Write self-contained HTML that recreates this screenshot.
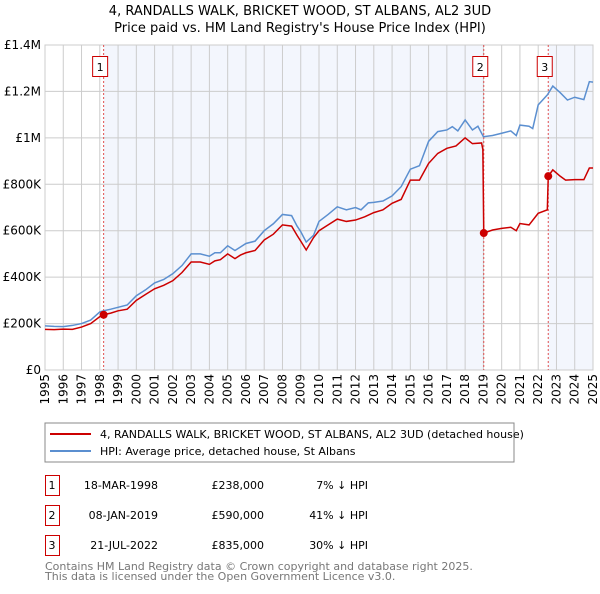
<!DOCTYPE html>
<html><head><meta charset="utf-8"><style>
body{margin:0;background:#fff;font-family:"DejaVu Sans","Liberation Sans",sans-serif;}
svg text{font-family:"DejaVu Sans","Liberation Sans",sans-serif;}
</style></head><body>
<svg id="c" width="600" height="590" viewBox="0 0 600 590">
<text x="300" y="15" font-size="13" text-anchor="middle" fill="#000">4, RANDALLS WALK, BRICKET WOOD, ST ALBANS, AL2 3UD</text>
<text x="300" y="32" font-size="13" text-anchor="middle" fill="#000">Price paid vs. HM Land Registry's House Price Index (HPI)</text>
<g id="plot"></g>
<rect x="45" y="423" width="469" height="39" fill="#fff" stroke="#888"/>
<line x1="50" y1="434" x2="91" y2="434" stroke="#cc0000" stroke-width="2"/>
<text x="100" y="438" font-size="11">4, RANDALLS WALK, BRICKET WOOD, ST ALBANS, AL2 3UD (detached house)</text>
<line x1="50" y1="451" x2="91" y2="451" stroke="#5b8fd0" stroke-width="2"/>
<text x="100" y="455" font-size="11">HPI: Average price, detached house, St Albans</text>
<g font-size="11" fill="#000">
<rect x="45.5" y="475.5" width="14" height="20" fill="#fff" stroke="#cc0000"/><text x="52" y="489" text-anchor="middle">1</text>
<text x="158" y="489" text-anchor="end">18-MAR-1998</text><text x="264" y="489" text-anchor="end">£238,000</text><text x="368" y="489" text-anchor="end">7% ↓ HPI</text>
<rect x="45.5" y="505.5" width="14" height="20" fill="#fff" stroke="#cc0000"/><text x="52" y="519" text-anchor="middle">2</text>
<text x="158" y="519" text-anchor="end">08-JAN-2019</text><text x="264" y="519" text-anchor="end">£590,000</text><text x="368" y="519" text-anchor="end">41% ↓ HPI</text>
<rect x="45.5" y="535.5" width="14" height="20" fill="#fff" stroke="#cc0000"/><text x="52" y="549" text-anchor="middle">3</text>
<text x="158" y="549" text-anchor="end">21-JUL-2022</text><text x="264" y="549" text-anchor="end">£835,000</text><text x="368" y="549" text-anchor="end">30% ↓ HPI</text>
</g>
<text x="45" y="570" font-size="11" fill="#777">Contains HM Land Registry data © Crown copyright and database right 2025.</text>
<text x="45" y="580" font-size="11" fill="#777">This data is licensed under the Open Government Licence v3.0.</text>
</svg>
<script>
const yTicks=[0,200,400,600,800,1000,1200,1400];
const yTickLabels=["£0","£200K","£400K","£600K","£800K","£1M","£1.2M","£1.4M"];
const xYears=[1995,1996,1997,1998,1999,2000,2001,2002,2003,2004,2005,2006,2007,2008,2009,2010,2011,2012,2013,2014,2015,2016,2017,2018,2019,2020,2021,2022,2023,2024,2025];
const hpiYears=[1995,1995.5,1996,1996.5,1997,1997.5,1998,1998.2,1998.6,1999,1999.5,2000,2000.5,2001,2001.5,2002,2002.5,2003,2003.5,2004,2004.3,2004.6,2005,2005.4,2005.7,2006,2006.5,2007,2007.5,2008,2008.5,2008.8,2009,2009.3,2009.7,2010,2010.5,2011,2011.5,2012,2012.3,2012.7,2013,2013.5,2014,2014.5,2015,2015.5,2016,2016.5,2017,2017.3,2017.6,2018,2018.4,2018.7,2019,2019.5,2020,2020.5,2020.8,2021,2021.5,2021.7,2022,2022.5,2022.8,2023.2,2023.6,2024,2024.5,2024.8,2025];
const hpiValues=[190,188,187,192,200,215,250,255,262,270,280,320,345,375,390,415,450,500,500,490,505,505,535,515,530,545,555,600,630,670,665,620,596,551,580,640,670,703,690,700,690,720,722,728,750,790,865,880,985,1027,1034,1048,1030,1077,1034,1050,1005,1010,1020,1030,1010,1055,1050,1040,1142,1185,1223,1195,1163,1175,1165,1242,1240];
const priceYears=[1995,1995.5,1996,1996.5,1997,1997.5,1998,1998.2,1998.6,1999,1999.5,2000,2000.5,2001,2001.5,2002,2002.5,2003,2003.5,2004,2004.3,2004.6,2005,2005.4,2005.7,2006,2006.5,2007,2007.5,2008,2008.5,2008.8,2009,2009.3,2009.7,2010,2010.5,2011,2011.5,2012,2012.5,2013,2013.5,2014,2014.5,2015,2015.5,2016,2016.5,2017,2017.5,2018,2018.4,2018.9,2018.97,2019.02,2019.5,2020,2020.5,2020.8,2021,2021.5,2022,2022.5,2022.55,2022.8,2023.2,2023.5,2024,2024.5,2024.8,2025];
const priceValues=[175,174,176,175,185,200,230,238,245,255,262,300,325,350,365,385,420,465,465,455,470,475,500,480,495,505,515,560,585,625,620,580,555,517,570,600,625,650,640,646,660,678,690,718,735,818,818,890,933,955,965,1000,975,978,950,590,603,610,615,600,631,625,675,690,835,862,835,818,820,820,870,870];
const saleYears=[1998.21,2019.02,2022.55];
const saleValues=[238,590,835];
const saleLabels=["1","2","3"];

const X0=45,X1=593,Y0=370,Y1=45;
const xs=y=>X0+(y-1995)/(2025-1995)*(X1-X0);
const ys=v=>Y0-v/1400*(Y0-Y1);
const NS="http://www.w3.org/2000/svg";
const g=document.getElementById('plot');
function mk(t,a){const e=document.createElementNS(NS,t);for(const k in a)e.setAttribute(k,a[k]);g.appendChild(e);return e;}

const shadeRanges=[[saleYears[0],saleYears[1]],[saleYears[2],2025]];
shadeRanges.forEach((r,i)=>{const e=mk('rect',{x:xs(r[0]),y:Y1,width:xs(r[1])-xs(r[0]),height:Y0-Y1,fill:'#eef2fc',opacity:0.7});

});

yTicks.forEach((v,i)=>{const l=mk('line',{x1:X0,x2:X1,y1:ys(v),y2:ys(v),stroke:'#ccc','stroke-width':1});


const t=mk('text',{x:X0-4,y:ys(v)+4,'font-size':12,'text-anchor':'end'});t.textContent=yTickLabels[i];

});
xYears.forEach(yr=>{const l=mk('line',{x1:xs(yr),x2:xs(yr),y1:Y1,y2:Y0,stroke:'#ccc','stroke-width':1});


const t=mk('text',{x:0,y:0,'font-size':12,'text-anchor':'end',transform:`translate(${xs(yr)+4},${Y0+4}) rotate(-90)`});t.textContent=yr;

});
const fr=mk('rect',{x:X0,y:Y1,width:X1-X0,height:Y0-Y1,fill:'none',stroke:'#ccc'});



saleYears.forEach((yr,i)=>{const l=mk('line',{x1:xs(yr),x2:xs(yr),y1:Y1,y2:Y0,stroke:'#e05050','stroke-dasharray':'2,2','stroke-width':1});


const b=mk('rect',{x:xs(yr)-11,y:56.5,width:15,height:20,fill:'#fff',stroke:'#cc0000'});


const t=mk('text',{x:xs(yr)-3.5,y:71,'font-size':11,'text-anchor':'middle'});t.textContent=saleLabels[i];

});

const hp=mk('polyline',{points:hpiYears.map((y,i)=>xs(y)+','+ys(hpiValues[i])).join(' '),fill:'none',stroke:'#5b8fd0','stroke-width':1.5});


const pp=mk('polyline',{points:priceYears.map((y,i)=>xs(y)+','+ys(priceValues[i])).join(' '),fill:'none',stroke:'#cc0000','stroke-width':1.5});


saleYears.forEach((yr,i)=>{const c=mk('circle',{cx:xs(yr),cy:ys(saleValues[i]),r:4,fill:'#cc0000'});

});
</script>
</body></html>
